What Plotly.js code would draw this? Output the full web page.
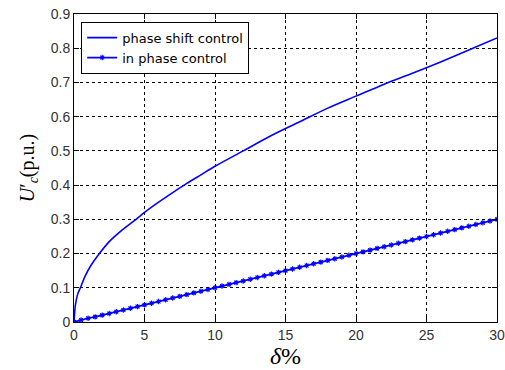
<!DOCTYPE html>
<html>
<head>
<meta charset="utf-8">
<script src="https://cdn.plot.ly/plotly-3.0.1.min.js"></script>
<style>html,body{margin:0;padding:0;background:#fff;}</style>
</head>
<body>
<div id="chart" style="width:505px;height:370px;"></div>
<script>
// Phase shift control curve
const shiftX = [0, 0.1, 0.25, 0.45, 0.8, 1.2, 1.8, 2.5, 3.3, 4.4, 5, 6, 7, 8, 9, 10, 12, 14, 16, 18, 20, 22, 24, 26, 28, 30];
const shiftY = [0, 0.05, 0.08, 0.10, 0.135, 0.165, 0.20, 0.235, 0.265, 0.30, 0.32, 0.35, 0.378, 0.405, 0.43, 0.455, 0.50, 0.545, 0.585, 0.625, 0.66, 0.695, 0.727, 0.76, 0.795, 0.83];
// In phase control curve (with markers)
const inX = [0,0.5,1,1.5,2,2.5,3,3.5,4,4.5,5,5.5,6,6.5,7,7.5,8,8.5,9,9.5,10,10.5,11,11.5,12,12.5,13,13.5,14,14.5,15,15.5,16,16.5,17,17.5,18,18.5,19,19.5,20,20.5,21,21.5,22,22.5,23,23.5,24,24.5,25,25.5,26,26.5,27,27.5,28,28.5,29,29.5,30];
const inY = [0,0.006,0.011,0.015,0.020,0.025,0.030,0.035,0.040,0.045,0.050,0.055,0.060,0.065,0.070,0.075,0.080,0.085,0.090,0.095,0.100,0.105,0.110,0.115,0.120,0.125,0.130,0.135,0.140,0.145,0.150,0.155,0.160,0.165,0.170,0.175,0.180,0.185,0.190,0.195,0.200,0.205,0.210,0.215,0.220,0.225,0.230,0.235,0.240,0.245,0.250,0.255,0.260,0.265,0.270,0.275,0.280,0.285,0.290,0.295,0.300];
const names = ['phase shift control', 'in phase control'];
const xTicks = [0, 5, 10, 15, 20, 25, 30];
const yTicks = [0, 0.1, 0.2, 0.3, 0.4, 0.5, 0.6, 0.7, 0.8, 0.9];

const traces = [
  {x: shiftX, y: shiftY, name: names[0], mode: 'lines', line: {color: '#0000ff', width: 1.6, shape: 'spline', smoothing: 0.8}},
  {x: inX, y: inY, name: names[1], mode: 'lines+markers', line: {color: '#0000ff', width: 1.7},
   marker: {symbol: 'asterisk-open', size: 4.5, color: '#0000ff', line: {color: '#0000ff', width: 1.1}}}
];

const axisCommon = {
  showline: true, linecolor: '#000', linewidth: 1, mirror: 'ticks',
  ticks: 'inside', ticklen: 5, tickcolor: '#000',
  showgrid: true, gridcolor: '#000', griddash: '3px,3px', gridwidth: 1,
  zeroline: false,
  tickfont: {family: 'Liberation Sans, Arial, sans-serif', size: 14, color: '#333'}
};

const layout = {
  width: 505, height: 370,
  margin: {l: 74, r: 8, t: 14, b: 48},
  paper_bgcolor: '#fff', plot_bgcolor: '#fff',
  showlegend: true,
  legend: {x: 0.017, y: 0.975, xanchor: 'left', yanchor: 'top',
    bgcolor: '#fff', bordercolor: '#000', borderwidth: 1,
    font: {family: 'DejaVu Sans, sans-serif', size: 13, color: '#000'},
    tracegroupgap: 0, itemwidth: 30},
  xaxis: Object.assign({}, axisCommon, {range: [0, 30], tickvals: xTicks,
    title: {text: '<i>δ</i>%', font: {family: 'Liberation Serif, Times New Roman, serif', size: 24, color: '#000'}, standoff: 0}}),
  yaxis: Object.assign({}, axisCommon, {range: [0, 0.9], tickvals: yTicks, ticktext: yTicks.map(v => String(v)),
    title: {text: '<i>U</i>′<sub><i>c</i></sub>(p.u.)', font: {family: 'Liberation Serif, Times New Roman, serif', size: 20, color: '#000'}, standoff: 10}})
};

Plotly.newPlot('chart', traces, layout, {displayModeBar: false, staticPlot: true});
</script>
</body>
</html>
